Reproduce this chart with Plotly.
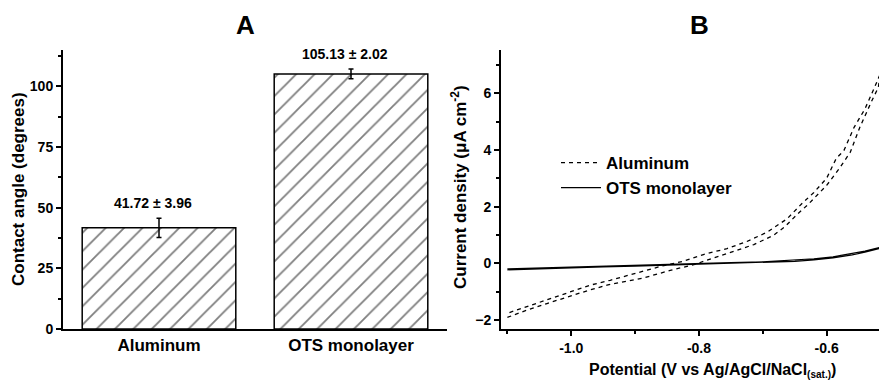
import plotly.graph_objects as go

# ---- Panel A: water contact angle ----
samples = ["Aluminum", "OTS monolayer"]
angle_mean = [41.72, 105.13]
angle_sd = [3.96, 2.02]

# ---- Panel B: cyclic polarisation curves (potential V, current density uA/cm2) ----
al_fwd_e = [-1.100, -1.069, -1.038, -1.007, -0.975, -0.944, -0.887, -0.845, -0.808,
            -0.777, -0.746, -0.714, -0.683, -0.665, -0.645, -0.628, -0.600, -0.580,
            -0.563, -0.548, -0.530, -0.519, -0.517]
al_fwd_i = [-1.91, -1.65, -1.42, -1.19, -0.97, -0.77, -0.52, -0.25, -0.05,
            0.19, 0.42, 0.66, 0.99, 1.30, 1.75, 2.10, 2.75, 3.35,
            3.92, 4.80, 5.70, 6.21, 6.55]
al_rev_e = [-0.518, -0.525, -0.540, -0.557, -0.573, -0.585, -0.600, -0.620, -0.639,
            -0.662, -0.678, -0.693, -0.725, -0.756, -0.793, -0.825, -0.855, -0.887,
            -0.939, -0.970, -1.002, -1.033, -1.064, -1.097]
al_rev_i = [6.58, 6.21, 5.45, 4.80, 3.98, 3.70, 3.00, 2.50, 2.10,
            1.57, 1.34, 1.10, 0.77, 0.52, 0.31, 0.07, -0.08, -0.28,
            -0.60, -0.77, -1.01, -1.24, -1.48, -1.74]

ots_fwd_e = [-1.100, -1.050, -1.000, -0.950, -0.900, -0.850, -0.800, -0.750, -0.700,
             -0.650, -0.620, -0.590, -0.560, -0.540, -0.518]
ots_fwd_i = [-0.23, -0.19, -0.16, -0.13, -0.10, -0.07, -0.04, -0.01, 0.02,
             0.07, 0.12, 0.19, 0.30, 0.39, 0.52]
ots_rev_e = [-0.518, -0.540, -0.560, -0.590, -0.620, -0.650, -0.700, -0.750, -0.800,
             -0.850, -0.900, -0.950, -1.000, -1.050, -1.100]
ots_rev_i = [0.55, 0.43, 0.34, 0.23, 0.16, 0.11, 0.05, 0.02, -0.01,
             -0.04, -0.07, -0.10, -0.13, -0.16, -0.20]

W, H = 879, 380
FONT = "Liberation Sans, Arial, sans-serif"


def px_x(p):
    return p / W


def px_y(p):
    return 1 - p / H


fig = go.Figure()

fig.add_trace(go.Bar(
    x=samples, y=angle_mean,
    error_y=dict(type="data", array=angle_sd, color="black", thickness=1.5, width=2.5),
    marker=dict(color="white", line=dict(color="black", width=1.5),
                pattern=dict(shape="/", fgcolor="black", bgcolor="white",
                             size=13, solidity=0.14)),
    width=0.8, showlegend=False, xaxis="x", yaxis="y",
))

for m, s, name in zip(angle_mean, angle_sd, samples):
    fig.add_annotation(x=name, y=m + s, xref="x", yref="y",
                       text=f"{m:.2f} ± {s:.2f}", showarrow=False,
                       xanchor="center", yanchor="bottom", yshift=5, xshift=-6,
                       font=dict(family=FONT, size=14, color="black", weight="bold"))

fig.add_trace(go.Scatter(
    x=al_fwd_e + al_rev_e, y=al_fwd_i + al_rev_i, mode="lines", name="Aluminum",
    line=dict(color="black", width=1.3, dash="4px,4px"), xaxis="x2", yaxis="y2",
))
fig.add_trace(go.Scatter(
    x=ots_fwd_e + ots_rev_e, y=ots_fwd_i + ots_rev_i, mode="lines", name="OTS monolayer",
    line=dict(color="black", width=1.2), xaxis="x2", yaxis="y2",
))

ydom = [px_y(329), px_y(50)]
axis_common = dict(showline=True, linecolor="black", linewidth=2, ticks="outside",
                   tickcolor="black", tickwidth=1.5, ticklen=5, showgrid=False,
                   zeroline=False, mirror=False, automargin=False,
                   tickfont=dict(family=FONT, size=14, color="black", weight="bold"))

fig.update_layout(
    width=W, height=H,
    margin=dict(l=0, r=0, t=0, b=0, pad=0, autoexpand=False),
    paper_bgcolor="white", plot_bgcolor="white",
    xaxis=dict(domain=[px_x(63), px_x(447)], range=[-0.5, 1.5], showline=True,
               linecolor="black", linewidth=2, ticks="", showgrid=False, zeroline=False,
               automargin=False,
               tickfont=dict(family=FONT, size=17, color="black", weight="bold"),
               anchor="y"),
    yaxis=dict(domain=ydom, range=[0, 115], tickvals=[0, 25, 50, 75, 100],
               minor=dict(ticks="outside", tickvals=[12.5, 37.5, 62.5, 87.5, 112.5],
                          ticklen=3, tickcolor="black", tickwidth=1.5),
               anchor="x", **axis_common),
    xaxis2=dict(domain=[px_x(501), 1.0], range=[-1.11, -0.518],
                tickvals=[-1.0, -0.8, -0.6], ticktext=["-1.0", "-0.8", "-0.6"],
                minor=dict(ticks="outside", tickvals=[-1.1, -0.9, -0.7],
                           ticklen=3, tickcolor="black", tickwidth=1.5),
                anchor="y2", **axis_common),
    yaxis2=dict(domain=ydom, range=[-2.32, 7.53], tickvals=[-2, 0, 2, 4, 6],
                minor=dict(ticks="outside", tickvals=[-1, 1, 3, 5, 7],
                           ticklen=3, tickcolor="black", tickwidth=1.5),
                anchor="x2", **axis_common),
    bargap=0.2,
    legend=dict(x=px_x(556), y=px_y(145), xanchor="left", yanchor="top",
                bgcolor="rgba(0,0,0,0)", tracegroupgap=0, itemwidth=40,
                font=dict(family=FONT, size=17, color="black", weight="bold")),
    showlegend=True,
)

title_font = dict(family=FONT, size=17, color="black", weight="bold")
big_font = dict(family=FONT, size=26, color="black", weight="bold")
fig.add_annotation(x=px_x(245), y=px_y(25), xref="paper", yref="paper", text="A",
                   xanchor="center", yanchor="middle", showarrow=False, font=big_font)
fig.add_annotation(x=px_x(699), y=px_y(25), xref="paper", yref="paper", text="B",
                   xanchor="center", yanchor="middle", showarrow=False, font=big_font)
fig.add_annotation(x=px_x(18), y=px_y(189), xref="paper", yref="paper",
                   text="Contact angle (degrees)", textangle=-90, showarrow=False,
                   xanchor="center", yanchor="middle", font=title_font)
fig.add_annotation(x=px_x(459), y=px_y(187), xref="paper", yref="paper",
                   text="Current density (μA cm<sup>-2</sup>)", textangle=-90,
                   xanchor="center", yanchor="middle", showarrow=False, font=title_font)
fig.add_annotation(x=px_x(712), y=px_y(370), xref="paper", yref="paper",
                   text="Potential (V vs Ag/AgCl/NaCl"
                        "<sub><span style='font-size:10px'>(sat.)</span></sub>)",
                   showarrow=False, xanchor="center", yanchor="middle",
                   font=dict(family=FONT, size=16, color="black", weight="bold"))

fig.write_html("out.html")
